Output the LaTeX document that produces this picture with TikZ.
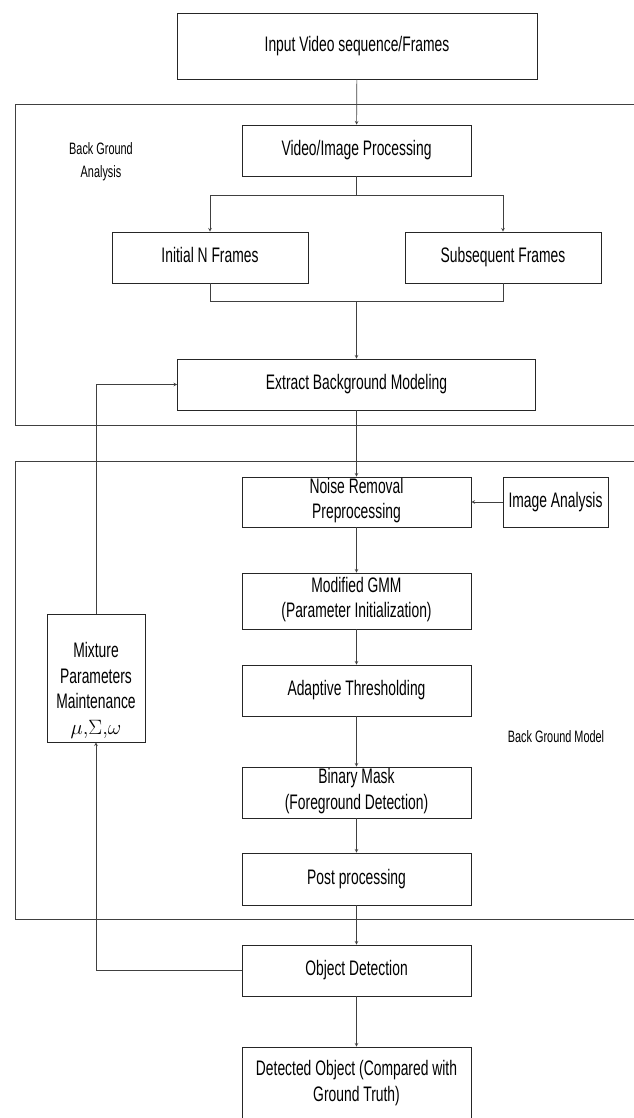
\documentclass[tikz,border=0pt]{standalone}
\usepackage{fontspec}
\setmainfont{Liberation Sans}[FakeStretch=0.66]
\tikzset{>=stealth}
\tikzset{
  blk/.style={draw=black!85, line width=0.7pt, align=center, inner sep=0pt,
    minimum width=229pt, minimum height=51pt, font=\fontsize{21}{25.5}\selectfont,
    execute at begin node=\strut, execute at end node=\strut},
  lbl/.style={align=center, font=\fontsize{16.5}{23}\selectfont},
  flow/.style={draw=black!75, line width=0.65pt},
}

\begin{document}
\begin{tikzpicture}[x=1pt,y=-1pt]
    \useasboundingbox (0,0) rectangle (633,1118);
    % two regions, open on the right
    \draw[flow] (640,104) -- (15,104) -- (15,425) -- (640,425);
    \draw[flow] (640,461) -- (15,461) -- (15,919) -- (640,919);
    \node[lbl] (bga) at (101,162) {Back Ground\\Analysis};
    \node[lbl] (bgm) at (556,737) {Back Ground Model};

    \node[blk, minimum width=360pt, minimum height=66pt] (input) at (357,46) {Input Video sequence/Frames};
    \node[blk] (video) at (356.5,150.5) {Video/Image Processing};
    \node[blk, minimum width=196pt] (initial) at (210,257.5) {Initial N Frames};
    \node[blk, minimum width=196pt] (subseq) at (503,257.5) {Subsequent Frames};
    \node[blk, minimum width=358pt] (extract) at (356.5,384.5) {Extract Background Modeling};
    \node[blk, minimum height=50pt] (noise) at (356.5,502) {Noise Removal\\Preprocessing};
    \node[blk, minimum width=105pt, minimum height=50pt] (imgan) at (555.5,502) {Image Analysis};
    \node[blk, minimum height=56pt] (gmm) at (356.5,601) {Modified GMM\\(Parameter Initialization)};
    \node[blk] (thresh) at (356.5,690.5) {Adaptive Thresholding};
    \node[blk] (mask) at (356.5,792.5) {Binary Mask\\(Foreground Detection)};
    \node[blk, minimum height=52pt] (post) at (356.5,879) {Post processing};
    \node[blk] (objdet) at (356.5,970.5) {Object Detection};
    \node[blk, minimum height=75pt] (detobj) at (356.5,1084.5) {Detected Object (Compared with\\Ground Truth)};
    \node[blk, minimum width=98pt, minimum height=128pt, execute at begin node={}, execute at end node={}] (mix) at (96,678) {\strut\\Mixture\\Parameters\\Maintenance\\$\mu{,}\Sigma{,}\omega$};

    \draw[flow,->] (input) -- (video);
    \path (video.south) ++(0,19) coordinate (split);
    \draw[flow] (split -| initial.north) -- (split -| subseq.north);
    \draw[flow] (video.south) -- (split);
    \draw[flow,->] (split -| initial.north) -- (initial.north);
    \draw[flow,->] (split -| subseq.north) -- (subseq.north);
    \path (extract.north) ++(0,-57) coordinate (merge);
    \draw[flow] (initial.south) |- (merge) -| (subseq.south);
    \draw[flow,->] (merge) -- (extract.north);
    \draw[flow,->] (extract) -- (noise);
    \draw[flow,->] (imgan) -- (noise);
    \draw[flow,->] (noise) -- (gmm);
    \draw[flow,->] (gmm) -- (thresh);
    \draw[flow,->] (thresh) -- (mask);
    \draw[flow,->] (mask) -- (post);
    \draw[flow,->] (post) -- (objdet);
    \draw[flow,->] (objdet) -- (detobj);
    \draw[flow,->] (objdet.west) -| (mix.south);
    \draw[flow,->] (mix.north) |- (extract.west);
\end{tikzpicture}
\end{document}
